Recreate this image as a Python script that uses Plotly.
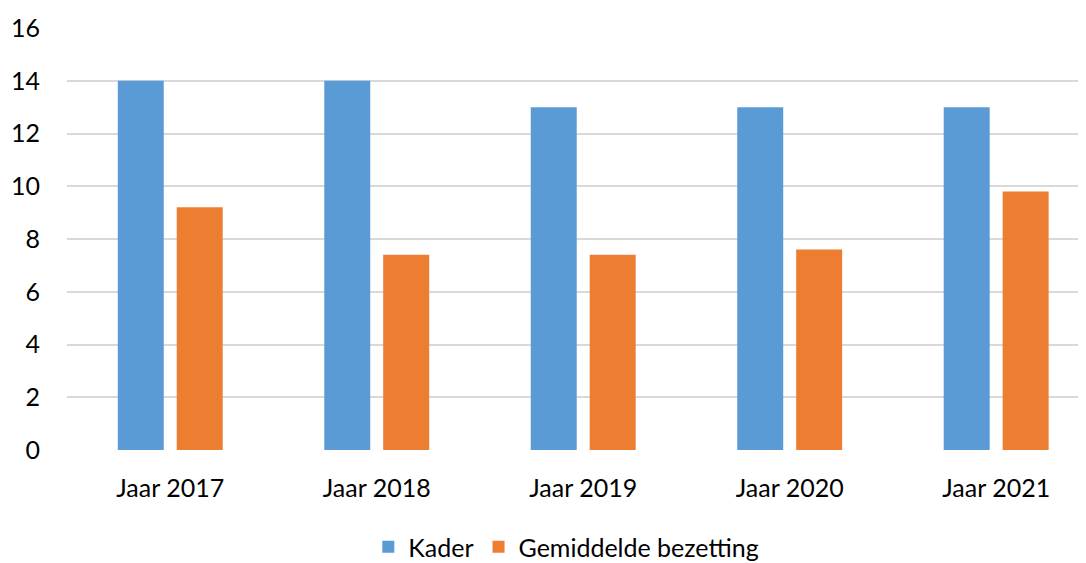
import plotly.graph_objects as go

years = ["Jaar 2017", "Jaar 2018", "Jaar 2019", "Jaar 2020", "Jaar 2021"]
kader = [14, 14, 13, 13, 13]
bezetting = [9.2, 7.4, 7.4, 7.6, 9.8]

font = "Lato, 'Open Sans', sans-serif"

fig = go.Figure()
fig.add_trace(go.Bar(x=years, y=kader, name="Kader",
                     marker=dict(color="#5B9BD5", line_width=0)))
fig.add_trace(go.Bar(x=years, y=bezetting, name="Gemiddelde bezetting",
                     marker=dict(color="#ED7D31", line_width=0)))

# page body has an 8px margin, so the figure is drawn 8px smaller
fig.update_layout(
    width=1078, height=555,
    margin=dict(l=59, r=0, t=20, b=113, autoexpand=False),
    paper_bgcolor="white", plot_bgcolor="white",
    barmode="group", bargap=0.429, bargroupgap=0.22,
    font=dict(family=font, size=25, color="#000000"),
    showlegend=True,
    legend=dict(orientation="h", x=0.49, xanchor="center", y=-0.23, yanchor="middle",
                font=dict(size=25), itemsizing="constant"),
    xaxis=dict(range=[-0.5, 4.435], showgrid=False, zeroline=False,
               showline=False, ticks="", ticklabelstandoff=21),
    yaxis=dict(range=[0, 16], dtick=2, showgrid=True, gridcolor="#D9D9D9",
               gridwidth=1.5, zeroline=False, showline=False,
               ticks="", ticklabelstandoff=26),
)

fig.write_html("out.html")
